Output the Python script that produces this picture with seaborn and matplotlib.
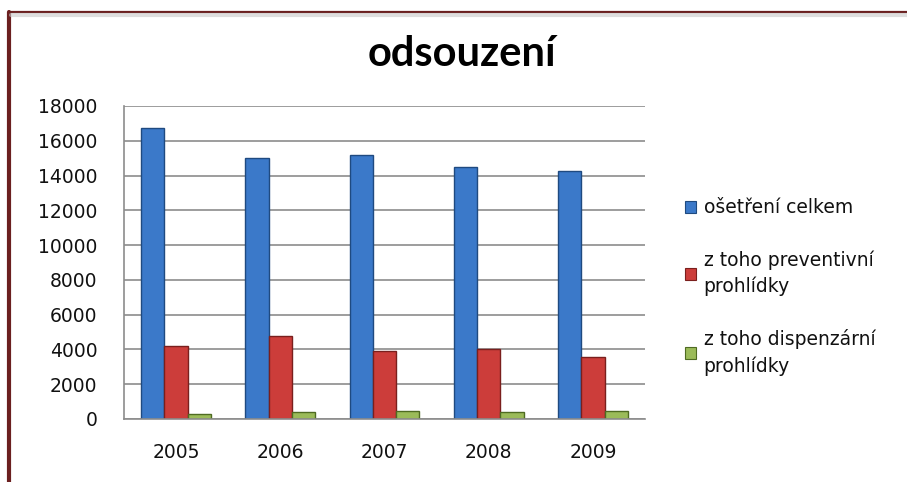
import matplotlib
matplotlib.use("Agg")
import matplotlib.pyplot as plt
import seaborn as sns
import pandas as pd
from matplotlib.lines import Line2D
from matplotlib.patches import Patch

years = ["2005", "2006", "2007", "2008", "2009"]
series = ["ošetření celkem", "z toho preventivní\nprohlídky", "z toho dispenzární\nprohlídky"]
osetreni = [16750, 15000, 15200, 14500, 14280]
preventivni = [4170, 4800, 3900, 4050, 3540]
dispenzarni = [290, 400, 450, 400, 450]
yticks = [0, 2000, 4000, 6000, 8000, 10000, 12000, 14000, 16000, 18000]

colors = ["#3B79C9", "#CC3D3A", "#9BBB59"]
edges = ["#1F4A80", "#7A1F1D", "#4F6B22"]

df = pd.DataFrame({
    "rok": years * 3,
    "serie": [series[0]] * 5 + [series[1]] * 5 + [series[2]] * 5,
    "hodnota": osetreni + preventivni + dispenzarni,
})

sns.set_theme(style="white")
plt.rcParams["font.family"] = ["DejaVu Sans"]

W, H = 907, 482
fig = plt.figure(figsize=(W / 100, H / 100), dpi=100)
fig.patch.set_facecolor("white")

ax = fig.add_axes([124 / W, 1 - 419 / H, 521 / W, 313 / H])
sns.barplot(data=df, x="rok", y="hodnota", hue="serie", hue_order=series,
            palette=colors, width=0.67, ax=ax, legend=False, saturation=1)

for i, cont in enumerate(ax.containers):
    for p in cont:
        p.set_edgecolor(edges[i])
        p.set_linewidth(1.0)

ax.set_ylim(0, 18000)
ax.set_yticks(yticks)
ax.set_yticklabels([str(v) for v in yticks])
ax.set_xlabel("")
ax.set_ylabel("")
ax.grid(axis="y", color="#8C8C8C", linewidth=1.2)
ax.set_axisbelow(True)
for s in ["top", "right"]:
    ax.spines[s].set_visible(False)
for s in ["left", "bottom"]:
    ax.spines[s].set_visible(True)
    ax.spines[s].set_color("#8C8C8C")
    ax.spines[s].set_linewidth(1.2)
ax.tick_params(axis="y", length=0, pad=19, labelsize=13.5, labelcolor="#111111")
ax.tick_params(axis="x", length=0, pad=17, labelsize=13.5, labelcolor="#111111")
ax.set_facecolor("white")

fig.text(462 / W, 1 - 54 / H, "odsouzení", ha="center", va="center",
         fontsize=30, fontweight="bold", family=["Lato", "DejaVu Sans"], color="black")

handles = [Patch(facecolor=colors[i], edgecolor=edges[i], linewidth=0.8) for i in range(3)]
leg = fig.legend(handles, series, loc="center left",
                 bbox_to_anchor=(668 / W, 1 - 287 / H), frameon=False,
                 fontsize=13.5, handlelength=0.6, handleheight=0.6,
                 handletextpad=0.4, labelspacing=1.75)
for t in leg.get_texts():
    t.set_linespacing(1.45)
    t.set_color("#111111")

# chart border
fig.add_artist(Line2D([9 / W, 9 / W], [0, 1 - 12 / H], transform=fig.transFigure,
                      color="#6B2020", linewidth=3))
fig.add_artist(Line2D([9 / W, 1], [1 - 12 / H, 1 - 12 / H], transform=fig.transFigure,
                      color="#6B2020", linewidth=1.6))
fig.add_artist(Line2D([11 / W, 1], [1 - 15 / H, 1 - 15 / H], transform=fig.transFigure,
                      color="#C8C8C8", linewidth=3, alpha=0.6))

fig.savefig("out.png", dpi=100)
